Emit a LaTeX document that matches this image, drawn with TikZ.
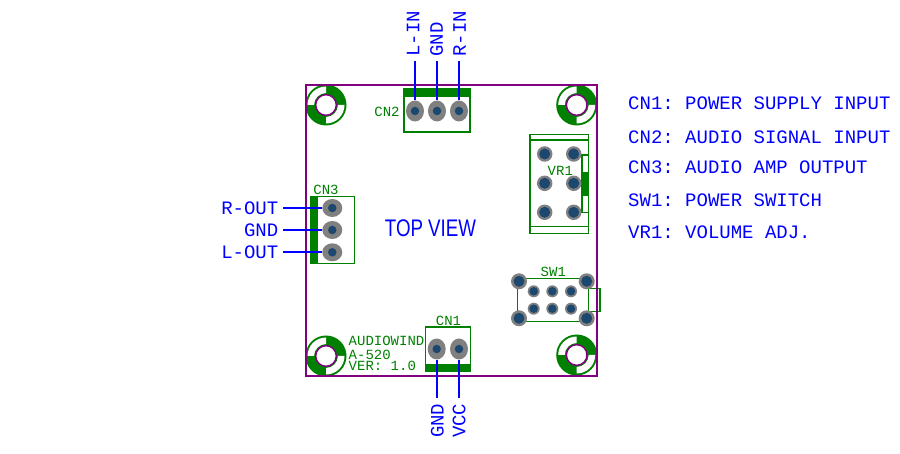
\documentclass[tikz,border=0pt]{standalone}
\usepackage{fontspec}
\setmonofont{Liberation Mono}
\setsansfont{Liberation Sans}
\usetikzlibrary{shapes.geometric}
\definecolor{pcbgreen}{RGB}{0,128,0}
\definecolor{pcbpurple}{RGB}{128,0,128}
\definecolor{padgray}{RGB}{128,128,128}
\definecolor{padblue}{RGB}{28,72,112}
\tikzset{
  board/.style={draw=pcbpurple,line width=1.4pt},
  outline/.style={draw=pcbgreen,line width=1.5pt},
  thinline/.style={draw=pcbgreen,line width=1.2pt},
  greenbar/.style={fill=pcbgreen},
  wire/.style={draw=blue,line width=1.8pt},
  bluetext/.style={font=\ttfamily\fontsize{19}{19}\selectfont,text=blue,inner sep=0pt,text height=12.5pt,text depth=0pt},
  greentext/.style={font=\ttfamily\fontsize{14}{14}\selectfont,text=pcbgreen,inner sep=0pt,text height=9.3pt,text depth=0pt},
  ovalv/.style={ellipse,fill=padgray,inner sep=0pt,minimum width=18pt,minimum height=21pt},
  ovalh/.style={ellipse,fill=padgray,inner sep=0pt,minimum width=20pt,minimum height=18pt},
  drill/.style={circle,fill=padblue,inner sep=0pt,minimum size=8.5pt},
  potpad/.style={circle,fill=padgray,inner sep=0pt,minimum size=15.5pt},
  potdrill/.style={circle,fill=padblue,inner sep=0pt,minimum size=11pt},
  bigpad/.style={circle,fill=padgray,inner sep=0pt,minimum size=16pt},
  bigdrill/.style={circle,fill=padblue,inner sep=0pt,minimum size=11pt},
  smallpad/.style={circle,fill=padgray,inner sep=0pt,minimum size=12pt},
  smalldrill/.style={circle,fill=padblue,inner sep=0pt,minimum size=8.5pt},
}
% one corner hole of the board
\newcommand{\cornerhole}[2]{%
  \fill [pcbgreen] (#1,#2) circle (20.5);
  \fill [white] (#1,#2) ++(180:12) -- ++(180:6.5) arc (180:270:18.5) -- ++(90:6.5) arc (270:180:12) -- cycle;
  \fill [white] (#1,#2) ++(0:12) -- ++(0:6.5) arc (0:90:18.5) -- ++(270:6.5) arc (90:0:12) -- cycle;
  \draw [board,fill=white] (#1,#2) circle (10.3);
}
\begin{document}
\begin{tikzpicture}[x=1pt,y=-1pt]
  \useasboundingbox (0,0) rectangle (900,454);

  % Corner holes
  \cornerhole{326}{105}
  \cornerhole{576.7}{105}
  \cornerhole{326}{356}
  \cornerhole{576.7}{355}

  % Connector CN2
  \fill [greenbar] (404,89) rectangle (470,97);
  \draw [outline] (404,89) rectangle (470,132);
  \node [greentext] (cntwolabel) at (387,111.5) {CN2};
  \node [ovalv] (cntwoa) at (415,111) {};
  \node [ovalv] (cntwob) at (437,111) {};
  \node [ovalv] (cntwoc) at (459,111) {};
  \node [drill] (cntwoaa) at (cntwoa) {};
  \node [drill] (cntwobb) at (cntwob) {};
  \node [drill] (cntwocc) at (cntwoc) {};

  % Connector CN3
  \fill [greenbar] (310.7,196.7) rectangle (318.3,263.3);
  \draw [outline] (310.7,196.7) rectangle (354.3,263.3);
  \node [greentext] (cnthreelabel) at (326,190) {CN3};
  \node [ovalh] (cnthreea) at (332.3,208) {};
  \node [ovalh] (cnthreeb) at (332.3,230) {};
  \node [ovalh] (cnthreec) at (332.3,252.3) {};
  \node [drill] (cnthreeaa) at (cnthreea) {};
  \node [drill] (cnthreebb) at (cnthreeb) {};
  \node [drill] (cnthreecc) at (cnthreec) {};

  % Connector CN1
  \fill [greenbar] (425.7,364.3) rectangle (470.7,371.7);
  \draw [outline] (425.7,327) rectangle (470.7,371.7);
  \node [greentext] (cnonelabel) at (448.5,321.2) {CN1};
  \node [ovalv] (cnonea) at (436.7,349) {};
  \node [ovalv] (cnoneb) at (459,349) {};
  \node [drill] (cnoneaa) at (cnonea) {};
  \node [drill] (cnonebb) at (cnoneb) {};

  % Potentiometer VR1
  \draw [outline] (530,134.3) rectangle (588.7,233.3);
  \draw [thinline] (530,140) -- (588.7,140);
  \draw [thinline] (530,226.7) -- (588.7,226.7);
  \fill [greenbar] (582,171.7) rectangle (588.7,195.7);
  \draw [thinline] (582,155) rectangle (588.7,212.3);
  \node [greentext] (vrlabel) at (560.3,170.4) {VR1};
  \node [potpad] (vra) at (544.7,154) {};
  \node [potpad] (vrb) at (573.7,154) {};
  \node [potpad] (vrc) at (544.7,183.3) {};
  \node [potpad] (vrd) at (573.7,183.3) {};
  \node [potpad] (vre) at (544.7,212.3) {};
  \node [potpad] (vrf) at (573.7,212.3) {};
  \node [potdrill] (vraa) at (vra) {};
  \node [potdrill] (vrbb) at (vrb) {};
  \node [potdrill] (vrcc) at (vrc) {};
  \node [potdrill] (vrdd) at (vrd) {};
  \node [potdrill] (vree) at (vre) {};
  \node [potdrill] (vrff) at (vrf) {};

  % Switch SW1
  \draw [thinline] (517.5,278.3) rectangle (588.3,321.7);
  \draw [thinline] (588.3,288.3) rectangle (600,311.7);
  \node [greentext] (swlabel) at (553.3,272) {SW1};
  \node [bigpad] (swa) at (519,281.3) {};
  \node [bigpad] (swb) at (586.7,281.3) {};
  \node [bigpad] (swc) at (519,318.3) {};
  \node [bigpad] (swd) at (586.7,318.3) {};
  \node [bigdrill] (swaa) at (swa) {};
  \node [bigdrill] (swbb) at (swb) {};
  \node [bigdrill] (swcc) at (swc) {};
  \node [bigdrill] (swdd) at (swd) {};
  \node [smallpad] (swe) at (533.7,291.3) {};
  \node [smallpad] (swf) at (552.3,291.3) {};
  \node [smallpad] (swg) at (571,291.3) {};
  \node [smallpad] (swh) at (533.7,308.7) {};
  \node [smallpad] (swi) at (552.3,308.7) {};
  \node [smallpad] (swj) at (571,308.7) {};
  \node [smalldrill] (swee) at (swe) {};
  \node [smalldrill] (swff) at (swf) {};
  \node [smalldrill] (swgg) at (swg) {};
  \node [smalldrill] (swhh) at (swh) {};
  \node [smalldrill] (swii) at (swi) {};
  \node [smalldrill] (swjj) at (swj) {};

  % Board outline
  \draw [board] (306,85) rectangle (597,376);

  % Silk texts on the board
  \node [greentext,anchor=west] (brand) at (348.5,340.5) {AUDIOWIND};
  \node [greentext,anchor=west] (model) at (348.5,354.5) {A-520};
  \node [greentext,anchor=west] (version) at (348.5,366.2) {VER: 1.0};
  \node [font=\sffamily\fontsize{24}{24}\selectfont,text=blue,inner sep=0pt,xscale=.78,transform shape] (topview) at (430.5,228.7) {TOP VIEW};

  % Wires of CN2
  \coordinate (lintop) at (415,61);
  \coordinate (gndtop) at (437,61);
  \coordinate (rintop) at (459,61);
  \draw [wire] (lintop) -- (cntwoa.north);
  \draw [wire] (gndtop) -- (cntwob.north);
  \draw [wire] (rintop) -- (cntwoc.north);
  \node [bluetext,rotate=90,anchor=west] (linlabel) at (413,57) {L-IN};
  \node [bluetext,rotate=90,anchor=west] (gndlabel) at (436.5,57) {GND};
  \node [bluetext,rotate=90,anchor=west] (rinlabel) at (459.5,57) {R-IN};

  % Wires of CN3
  \coordinate (routend) at (283,208);
  \coordinate (gndend) at (283,230);
  \coordinate (loutend) at (283,252.3);
  \draw [wire] (routend) -- (cnthreea.west);
  \draw [wire] (gndend) -- (cnthreeb.west);
  \draw [wire] (loutend) -- (cnthreec.west);
  \node [bluetext,anchor=east] (routlabel) at (278.5,208) {R-OUT};
  \node [bluetext,anchor=east] (gndoutlabel) at (278.5,230) {GND};
  \node [bluetext,anchor=east] (loutlabel) at (278.5,252.5) {L-OUT};

  % Wires of CN1
  \coordinate (gndbot) at (436.7,398);
  \coordinate (vccbot) at (459,398);
  \draw [wire] (gndbot) -- (cnonea.south);
  \draw [wire] (vccbot) -- (cnoneb.south);
  \node [bluetext,rotate=90,anchor=east] (gndinlabel) at (437.3,403.5) {GND};
  \node [bluetext,rotate=90,anchor=east] (vcclabel) at (459.2,403.5) {VCC};

  % Legend
  \node [bluetext,anchor=west] (legendone) at (628,103) {CN1: POWER SUPPLY INPUT};
  \node [bluetext,anchor=west] (legendtwo) at (628,137.2) {CN2: AUDIO SIGNAL INPUT};
  \node [bluetext,anchor=west] (legendthree) at (628,167.5) {CN3: AUDIO AMP OUTPUT};
  \node [bluetext,anchor=west] (legendfour) at (628,200.3) {SW1: POWER SWITCH};
  \node [bluetext,anchor=west] (legendfive) at (628,232) {VR1: VOLUME ADJ.};
\end{tikzpicture}
\end{document}
